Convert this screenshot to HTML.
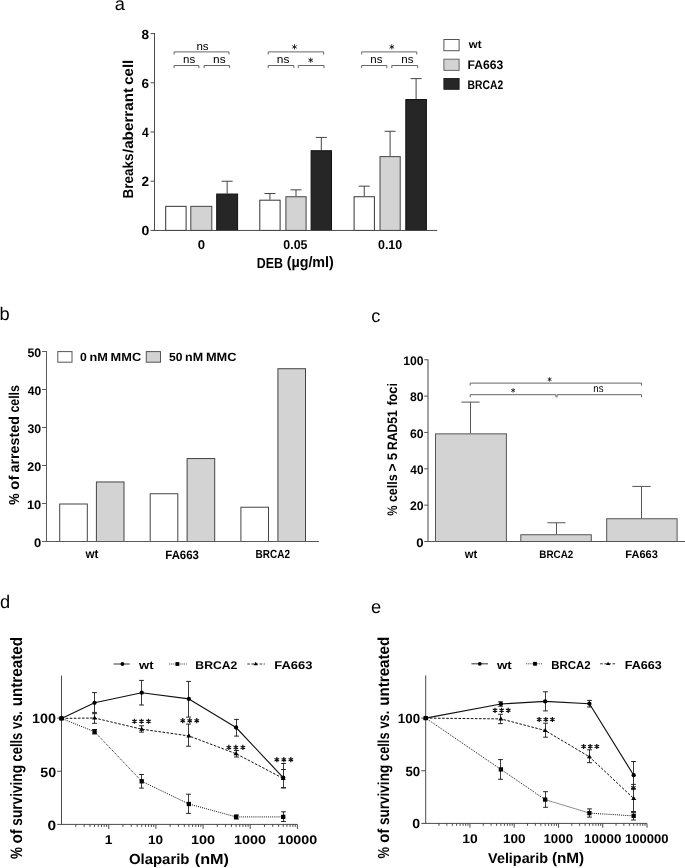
<!DOCTYPE html>
<html><head><meta charset="utf-8"><title>Figure</title><style>
html,body{margin:0;padding:0;background:#fff;}
body{width:685px;height:868px;overflow:hidden;}
svg{display:block;filter:blur(0.25px);}
text{font-family:"Liberation Sans",sans-serif;font-size:100px;fill:#000;text-rendering:geometricPrecision;}
</style></head><body>
<svg width="685" height="868" viewBox="0 0 685 868">
<rect x="0" y="0" width="685" height="868" fill="#fff"/>
<rect x="165.70" y="206.34" width="20.40" height="24.11" fill="#ffffff" stroke="#333" stroke-width="1.0"/>
<rect x="190.80" y="206.34" width="21.00" height="24.11" fill="#d3d3d3" stroke="#444" stroke-width="1.0"/>
<line x1="227.15" y1="193.53" x2="227.15" y2="181.23" stroke="#444" stroke-width="1.0" />
<line x1="221.65" y1="181.23" x2="232.65" y2="181.23" stroke="#444" stroke-width="1.0" />
<rect x="216.70" y="194.03" width="20.90" height="36.41" fill="#262626" stroke="#111" stroke-width="1.0"/>
<line x1="269.95" y1="199.69" x2="269.95" y2="193.53" stroke="#444" stroke-width="1.0" />
<line x1="264.45" y1="193.53" x2="275.45" y2="193.53" stroke="#444" stroke-width="1.0" />
<rect x="259.80" y="200.19" width="20.30" height="30.26" fill="#ffffff" stroke="#333" stroke-width="1.0"/>
<line x1="296.00" y1="196.24" x2="296.00" y2="189.84" stroke="#444" stroke-width="1.0" />
<line x1="290.50" y1="189.84" x2="301.50" y2="189.84" stroke="#444" stroke-width="1.0" />
<rect x="285.90" y="196.74" width="20.20" height="33.71" fill="#d3d3d3" stroke="#444" stroke-width="1.0"/>
<line x1="321.30" y1="150.22" x2="321.30" y2="137.42" stroke="#444" stroke-width="1.0" />
<line x1="315.80" y1="137.42" x2="326.80" y2="137.42" stroke="#444" stroke-width="1.0" />
<rect x="311.10" y="150.72" width="20.40" height="79.73" fill="#262626" stroke="#111" stroke-width="1.0"/>
<line x1="364.25" y1="196.24" x2="364.25" y2="186.15" stroke="#444" stroke-width="1.0" />
<line x1="358.75" y1="186.15" x2="369.75" y2="186.15" stroke="#444" stroke-width="1.0" />
<rect x="354.10" y="196.74" width="20.30" height="33.71" fill="#ffffff" stroke="#333" stroke-width="1.0"/>
<line x1="390.10" y1="156.13" x2="390.10" y2="131.27" stroke="#444" stroke-width="1.0" />
<line x1="384.60" y1="131.27" x2="395.60" y2="131.27" stroke="#444" stroke-width="1.0" />
<rect x="380.00" y="156.63" width="20.20" height="73.82" fill="#d3d3d3" stroke="#444" stroke-width="1.0"/>
<line x1="416.10" y1="99.03" x2="416.10" y2="78.61" stroke="#444" stroke-width="1.0" />
<line x1="410.60" y1="78.61" x2="421.60" y2="78.61" stroke="#444" stroke-width="1.0" />
<rect x="405.80" y="99.53" width="20.60" height="130.92" fill="#262626" stroke="#111" stroke-width="1.0"/>
<line x1="154.50" y1="33.00" x2="154.50" y2="231.00" stroke="#4a4a4a" stroke-width="1.0" />
<line x1="154.00" y1="230.45" x2="437.20" y2="230.45" stroke="#4a4a4a" stroke-width="1.0" />
<line x1="150.60" y1="33.57" x2="154.50" y2="33.57" stroke="#4a4a4a" stroke-width="1.0" />
<line x1="150.60" y1="82.79" x2="154.50" y2="82.79" stroke="#4a4a4a" stroke-width="1.0" />
<line x1="150.60" y1="132.01" x2="154.50" y2="132.01" stroke="#4a4a4a" stroke-width="1.0" />
<line x1="150.60" y1="181.23" x2="154.50" y2="181.23" stroke="#4a4a4a" stroke-width="1.0" />
<line x1="150.60" y1="230.45" x2="154.50" y2="230.45" stroke="#4a4a4a" stroke-width="1.0" />
<polyline points="174.10,54.50 174.10,51.90 229.00,51.90 229.00,54.50" fill="none" stroke="#666" stroke-width="1.0" stroke-linejoin="round" />
<polyline points="174.10,68.10 174.10,65.50 198.90,65.50 198.90,68.10" fill="none" stroke="#666" stroke-width="1.0" stroke-linejoin="round" />
<polyline points="204.10,68.10 204.10,65.50 229.60,65.50 229.60,68.10" fill="none" stroke="#666" stroke-width="1.0" stroke-linejoin="round" />
<polyline points="268.20,54.50 268.20,51.90 323.60,51.90 323.60,54.50" fill="none" stroke="#666" stroke-width="1.0" stroke-linejoin="round" />
<polyline points="268.20,68.10 268.20,65.50 293.90,65.50 293.90,68.10" fill="none" stroke="#666" stroke-width="1.0" stroke-linejoin="round" />
<polyline points="298.30,68.10 298.30,65.50 324.00,65.50 324.00,68.10" fill="none" stroke="#666" stroke-width="1.0" stroke-linejoin="round" />
<polyline points="361.70,54.50 361.70,51.90 416.80,51.90 416.80,54.50" fill="none" stroke="#666" stroke-width="1.0" stroke-linejoin="round" />
<polyline points="361.70,68.10 361.70,65.50 386.80,65.50 386.80,68.10" fill="none" stroke="#666" stroke-width="1.0" stroke-linejoin="round" />
<polyline points="391.80,68.10 391.80,65.50 417.70,65.50 417.70,68.10" fill="none" stroke="#666" stroke-width="1.0" stroke-linejoin="round" />
<path d="M294.50,44.30L294.50,49.50M292.25,45.60L296.75,48.20M292.25,48.20L296.75,45.60" stroke="#111" stroke-width="0.85" fill="none"/>
<path d="M310.70,57.60L310.70,62.80M308.45,58.90L312.95,61.50M308.45,61.50L312.95,58.90" stroke="#111" stroke-width="0.85" fill="none"/>
<path d="M391.80,44.30L391.80,49.50M389.55,45.60L394.05,48.20M389.55,48.20L394.05,45.60" stroke="#111" stroke-width="0.85" fill="none"/>
<rect x="443.90" y="39.50" width="15.20" height="11.20" fill="#ffffff" stroke="#555" stroke-width="1.0"/>
<rect x="443.90" y="59.20" width="15.20" height="11.20" fill="#d3d3d3" stroke="#666" stroke-width="1.0"/>
<rect x="443.90" y="78.50" width="15.20" height="10.80" fill="#262626" stroke="#222" stroke-width="1.0"/>
<rect x="59.70" y="504.00" width="27.60" height="37.50" fill="#ffffff" stroke="#444" stroke-width="1.0"/>
<rect x="96.40" y="481.96" width="27.60" height="59.54" fill="#d3d3d3" stroke="#444" stroke-width="1.0"/>
<rect x="150.20" y="493.74" width="27.60" height="47.76" fill="#ffffff" stroke="#444" stroke-width="1.0"/>
<rect x="187.10" y="458.55" width="27.60" height="82.95" fill="#d3d3d3" stroke="#444" stroke-width="1.0"/>
<rect x="240.90" y="507.23" width="27.60" height="34.27" fill="#ffffff" stroke="#444" stroke-width="1.0"/>
<rect x="277.90" y="368.72" width="27.60" height="172.78" fill="#d3d3d3" stroke="#444" stroke-width="1.0"/>
<line x1="46.50" y1="351.00" x2="46.50" y2="542.00" stroke="#5a5a5a" stroke-width="1.0" />
<line x1="46.00" y1="541.50" x2="318.90" y2="541.50" stroke="#5a5a5a" stroke-width="1.0" />
<line x1="42.10" y1="351.50" x2="46.50" y2="351.50" stroke="#5a5a5a" stroke-width="1.0" />
<line x1="42.10" y1="389.50" x2="46.50" y2="389.50" stroke="#5a5a5a" stroke-width="1.0" />
<line x1="42.10" y1="427.50" x2="46.50" y2="427.50" stroke="#5a5a5a" stroke-width="1.0" />
<line x1="42.10" y1="465.50" x2="46.50" y2="465.50" stroke="#5a5a5a" stroke-width="1.0" />
<line x1="42.10" y1="503.50" x2="46.50" y2="503.50" stroke="#5a5a5a" stroke-width="1.0" />
<line x1="42.10" y1="541.50" x2="46.50" y2="541.50" stroke="#5a5a5a" stroke-width="1.0" />
<rect x="57.80" y="351.60" width="14.20" height="10.60" fill="#ffffff" stroke="#555" stroke-width="1.0"/>
<rect x="146.30" y="351.60" width="14.20" height="10.60" fill="#d3d3d3" stroke="#555" stroke-width="1.0"/>
<line x1="470.50" y1="433.36" x2="470.50" y2="402.10" stroke="#555" stroke-width="1.0" />
<line x1="461.45" y1="402.10" x2="479.55" y2="402.10" stroke="#555" stroke-width="1.0" />
<rect x="435.50" y="433.86" width="70.90" height="107.64" fill="#d3d3d3" stroke="#555" stroke-width="1.0"/>
<line x1="556.50" y1="534.23" x2="556.50" y2="522.78" stroke="#555" stroke-width="1.0" />
<line x1="547.45" y1="522.78" x2="565.55" y2="522.78" stroke="#555" stroke-width="1.0" />
<rect x="520.80" y="534.73" width="70.50" height="6.77" fill="#d3d3d3" stroke="#555" stroke-width="1.0"/>
<line x1="641.50" y1="518.24" x2="641.50" y2="486.43" stroke="#555" stroke-width="1.0" />
<line x1="632.30" y1="486.43" x2="650.70" y2="486.43" stroke="#555" stroke-width="1.0" />
<rect x="606.70" y="518.74" width="70.40" height="22.76" fill="#d3d3d3" stroke="#555" stroke-width="1.0"/>
<line x1="428.00" y1="359.40" x2="428.00" y2="542.00" stroke="#444" stroke-width="1.0" />
<line x1="427.50" y1="541.50" x2="685.00" y2="541.50" stroke="#555" stroke-width="1.0" />
<line x1="424.20" y1="359.75" x2="428.00" y2="359.75" stroke="#555" stroke-width="1.0" />
<line x1="424.20" y1="396.10" x2="428.00" y2="396.10" stroke="#555" stroke-width="1.0" />
<line x1="424.20" y1="432.45" x2="428.00" y2="432.45" stroke="#555" stroke-width="1.0" />
<line x1="424.20" y1="468.80" x2="428.00" y2="468.80" stroke="#555" stroke-width="1.0" />
<line x1="424.20" y1="505.15" x2="428.00" y2="505.15" stroke="#555" stroke-width="1.0" />
<line x1="424.20" y1="541.50" x2="428.00" y2="541.50" stroke="#555" stroke-width="1.0" />
<polyline points="470.20,385.70 470.20,383.10 641.50,383.10 641.50,385.70" fill="none" stroke="#666" stroke-width="1.0" stroke-linejoin="round" />
<polyline points="470.20,397.30 470.20,394.70 555.90,394.70 555.90,397.30" fill="none" stroke="#666" stroke-width="1.0" stroke-linejoin="round" />
<polyline points="557.10,397.30 557.10,394.70 641.50,394.70 641.50,397.30" fill="none" stroke="#666" stroke-width="1.0" stroke-linejoin="round" />
<path d="M549.60,377.20L549.60,381.60M547.69,378.30L551.51,380.50M547.69,380.50L551.51,378.30" stroke="#111" stroke-width="0.8" fill="none"/>
<path d="M513.10,388.20L513.10,392.60M511.19,389.30L515.01,391.50M511.19,391.50L515.01,389.30" stroke="#111" stroke-width="0.8" fill="none"/>
<line x1="61.50" y1="675.60" x2="61.50" y2="824.90" stroke="#4a4a4a" stroke-width="1.0" />
<line x1="57.20" y1="718.10" x2="61.50" y2="718.10" stroke="#4a4a4a" stroke-width="1.0" />
<line x1="57.20" y1="771.25" x2="61.50" y2="771.25" stroke="#4a4a4a" stroke-width="1.0" />
<line x1="57.20" y1="824.40" x2="61.50" y2="824.40" stroke="#4a4a4a" stroke-width="1.0" />
<line x1="61.10" y1="824.40" x2="297.40" y2="824.40" stroke="#4a4a4a" stroke-width="1.0" />
<line x1="75.80" y1="824.40" x2="75.80" y2="826.90" stroke="#4a4a4a" stroke-width="1.0" />
<line x1="84.10" y1="824.40" x2="84.10" y2="826.90" stroke="#4a4a4a" stroke-width="1.0" />
<line x1="89.99" y1="824.40" x2="89.99" y2="826.90" stroke="#4a4a4a" stroke-width="1.0" />
<line x1="94.56" y1="824.40" x2="94.56" y2="826.90" stroke="#4a4a4a" stroke-width="1.0" />
<line x1="98.30" y1="824.40" x2="98.30" y2="826.90" stroke="#4a4a4a" stroke-width="1.0" />
<line x1="101.45" y1="824.40" x2="101.45" y2="826.90" stroke="#4a4a4a" stroke-width="1.0" />
<line x1="104.19" y1="824.40" x2="104.19" y2="826.90" stroke="#4a4a4a" stroke-width="1.0" />
<line x1="106.60" y1="824.40" x2="106.60" y2="826.90" stroke="#4a4a4a" stroke-width="1.0" />
<line x1="108.76" y1="824.40" x2="108.76" y2="828.90" stroke="#4a4a4a" stroke-width="1.0" />
<line x1="122.96" y1="824.40" x2="122.96" y2="826.90" stroke="#4a4a4a" stroke-width="1.0" />
<line x1="131.26" y1="824.40" x2="131.26" y2="826.90" stroke="#4a4a4a" stroke-width="1.0" />
<line x1="137.15" y1="824.40" x2="137.15" y2="826.90" stroke="#4a4a4a" stroke-width="1.0" />
<line x1="141.72" y1="824.40" x2="141.72" y2="826.90" stroke="#4a4a4a" stroke-width="1.0" />
<line x1="145.46" y1="824.40" x2="145.46" y2="826.90" stroke="#4a4a4a" stroke-width="1.0" />
<line x1="148.61" y1="824.40" x2="148.61" y2="826.90" stroke="#4a4a4a" stroke-width="1.0" />
<line x1="151.35" y1="824.40" x2="151.35" y2="826.90" stroke="#4a4a4a" stroke-width="1.0" />
<line x1="153.76" y1="824.40" x2="153.76" y2="826.90" stroke="#4a4a4a" stroke-width="1.0" />
<line x1="155.92" y1="824.40" x2="155.92" y2="828.90" stroke="#4a4a4a" stroke-width="1.0" />
<line x1="170.12" y1="824.40" x2="170.12" y2="826.90" stroke="#4a4a4a" stroke-width="1.0" />
<line x1="178.42" y1="824.40" x2="178.42" y2="826.90" stroke="#4a4a4a" stroke-width="1.0" />
<line x1="184.31" y1="824.40" x2="184.31" y2="826.90" stroke="#4a4a4a" stroke-width="1.0" />
<line x1="188.88" y1="824.40" x2="188.88" y2="826.90" stroke="#4a4a4a" stroke-width="1.0" />
<line x1="192.62" y1="824.40" x2="192.62" y2="826.90" stroke="#4a4a4a" stroke-width="1.0" />
<line x1="195.77" y1="824.40" x2="195.77" y2="826.90" stroke="#4a4a4a" stroke-width="1.0" />
<line x1="198.51" y1="824.40" x2="198.51" y2="826.90" stroke="#4a4a4a" stroke-width="1.0" />
<line x1="200.92" y1="824.40" x2="200.92" y2="826.90" stroke="#4a4a4a" stroke-width="1.0" />
<line x1="203.08" y1="824.40" x2="203.08" y2="828.90" stroke="#4a4a4a" stroke-width="1.0" />
<line x1="217.28" y1="824.40" x2="217.28" y2="826.90" stroke="#4a4a4a" stroke-width="1.0" />
<line x1="225.58" y1="824.40" x2="225.58" y2="826.90" stroke="#4a4a4a" stroke-width="1.0" />
<line x1="231.47" y1="824.40" x2="231.47" y2="826.90" stroke="#4a4a4a" stroke-width="1.0" />
<line x1="236.04" y1="824.40" x2="236.04" y2="826.90" stroke="#4a4a4a" stroke-width="1.0" />
<line x1="239.78" y1="824.40" x2="239.78" y2="826.90" stroke="#4a4a4a" stroke-width="1.0" />
<line x1="242.93" y1="824.40" x2="242.93" y2="826.90" stroke="#4a4a4a" stroke-width="1.0" />
<line x1="245.67" y1="824.40" x2="245.67" y2="826.90" stroke="#4a4a4a" stroke-width="1.0" />
<line x1="248.08" y1="824.40" x2="248.08" y2="826.90" stroke="#4a4a4a" stroke-width="1.0" />
<line x1="250.24" y1="824.40" x2="250.24" y2="828.90" stroke="#4a4a4a" stroke-width="1.0" />
<line x1="264.44" y1="824.40" x2="264.44" y2="826.90" stroke="#4a4a4a" stroke-width="1.0" />
<line x1="272.74" y1="824.40" x2="272.74" y2="826.90" stroke="#4a4a4a" stroke-width="1.0" />
<line x1="278.63" y1="824.40" x2="278.63" y2="826.90" stroke="#4a4a4a" stroke-width="1.0" />
<line x1="283.20" y1="824.40" x2="283.20" y2="826.90" stroke="#4a4a4a" stroke-width="1.0" />
<line x1="286.94" y1="824.40" x2="286.94" y2="826.90" stroke="#4a4a4a" stroke-width="1.0" />
<line x1="290.09" y1="824.40" x2="290.09" y2="826.90" stroke="#4a4a4a" stroke-width="1.0" />
<line x1="292.83" y1="824.40" x2="292.83" y2="826.90" stroke="#4a4a4a" stroke-width="1.0" />
<line x1="295.24" y1="824.40" x2="295.24" y2="826.90" stroke="#4a4a4a" stroke-width="1.0" />
<line x1="297.40" y1="824.40" x2="297.40" y2="828.90" stroke="#4a4a4a" stroke-width="1.0" />
<line x1="113.60" y1="664.00" x2="129.70" y2="664.00" stroke="#444" stroke-width="1.1" />
<circle cx="122.40" cy="664.00" r="1.9" fill="#000"/>
<line x1="169.10" y1="664.00" x2="186.60" y2="664.00" stroke="#333" stroke-width="1.0" stroke-dasharray="1.0,1.1"/>
<rect x="175.50" y="662.10" width="3.8" height="3.8" fill="#000"/>
<line x1="247.30" y1="664.00" x2="264.80" y2="664.00" stroke="#333" stroke-width="1.0" stroke-dasharray="2.6,1.5"/>
<polygon points="255.70,661.86 253.60,665.31 257.80,665.31" fill="#000"/>
<line x1="94.50" y1="692.60" x2="94.50" y2="713.70" stroke="#3a3a3a" stroke-width="1.0" />
<line x1="92.10" y1="692.60" x2="96.90" y2="692.60" stroke="#222" stroke-width="1.0" />
<line x1="92.10" y1="713.70" x2="96.90" y2="713.70" stroke="#222" stroke-width="1.0" />
<line x1="141.50" y1="680.40" x2="141.50" y2="705.00" stroke="#3a3a3a" stroke-width="1.0" />
<line x1="139.10" y1="680.40" x2="143.90" y2="680.40" stroke="#222" stroke-width="1.0" />
<line x1="139.10" y1="705.00" x2="143.90" y2="705.00" stroke="#222" stroke-width="1.0" />
<line x1="188.50" y1="681.40" x2="188.50" y2="717.10" stroke="#3a3a3a" stroke-width="1.0" />
<line x1="186.10" y1="681.40" x2="190.90" y2="681.40" stroke="#222" stroke-width="1.0" />
<line x1="186.10" y1="717.10" x2="190.90" y2="717.10" stroke="#222" stroke-width="1.0" />
<line x1="236.50" y1="719.40" x2="236.50" y2="736.10" stroke="#3a3a3a" stroke-width="1.0" />
<line x1="234.10" y1="719.40" x2="238.90" y2="719.40" stroke="#222" stroke-width="1.0" />
<line x1="234.10" y1="736.10" x2="238.90" y2="736.10" stroke="#222" stroke-width="1.0" />
<line x1="283.50" y1="763.50" x2="283.50" y2="788.00" stroke="#3a3a3a" stroke-width="1.0" />
<line x1="281.10" y1="763.50" x2="285.90" y2="763.50" stroke="#222" stroke-width="1.0" />
<line x1="281.10" y1="788.00" x2="285.90" y2="788.00" stroke="#222" stroke-width="1.0" />
<line x1="94.50" y1="712.40" x2="94.50" y2="723.30" stroke="#3a3a3a" stroke-width="1.0" />
<line x1="92.10" y1="712.40" x2="96.90" y2="712.40" stroke="#222" stroke-width="1.0" />
<line x1="92.10" y1="723.30" x2="96.90" y2="723.30" stroke="#222" stroke-width="1.0" />
<line x1="141.50" y1="725.80" x2="141.50" y2="732.10" stroke="#3a3a3a" stroke-width="1.0" />
<line x1="139.10" y1="725.80" x2="143.90" y2="725.80" stroke="#222" stroke-width="1.0" />
<line x1="139.10" y1="732.10" x2="143.90" y2="732.10" stroke="#222" stroke-width="1.0" />
<line x1="188.50" y1="724.10" x2="188.50" y2="746.20" stroke="#3a3a3a" stroke-width="1.0" />
<line x1="186.10" y1="724.10" x2="190.90" y2="724.10" stroke="#222" stroke-width="1.0" />
<line x1="186.10" y1="746.20" x2="190.90" y2="746.20" stroke="#222" stroke-width="1.0" />
<line x1="236.50" y1="750.50" x2="236.50" y2="757.00" stroke="#3a3a3a" stroke-width="1.0" />
<line x1="234.10" y1="750.50" x2="238.90" y2="750.50" stroke="#222" stroke-width="1.0" />
<line x1="234.10" y1="757.00" x2="238.90" y2="757.00" stroke="#222" stroke-width="1.0" />
<line x1="283.50" y1="769.50" x2="283.50" y2="787.60" stroke="#3a3a3a" stroke-width="1.0" />
<line x1="281.10" y1="769.50" x2="285.90" y2="769.50" stroke="#222" stroke-width="1.0" />
<line x1="281.10" y1="787.60" x2="285.90" y2="787.60" stroke="#222" stroke-width="1.0" />
<line x1="94.50" y1="729.50" x2="94.50" y2="734.00" stroke="#3a3a3a" stroke-width="1.0" />
<line x1="92.10" y1="729.50" x2="96.90" y2="729.50" stroke="#222" stroke-width="1.0" />
<line x1="92.10" y1="734.00" x2="96.90" y2="734.00" stroke="#222" stroke-width="1.0" />
<line x1="141.50" y1="774.50" x2="141.50" y2="788.10" stroke="#3a3a3a" stroke-width="1.0" />
<line x1="139.10" y1="774.50" x2="143.90" y2="774.50" stroke="#222" stroke-width="1.0" />
<line x1="139.10" y1="788.10" x2="143.90" y2="788.10" stroke="#222" stroke-width="1.0" />
<line x1="188.50" y1="794.20" x2="188.50" y2="813.40" stroke="#3a3a3a" stroke-width="1.0" />
<line x1="186.10" y1="794.20" x2="190.90" y2="794.20" stroke="#222" stroke-width="1.0" />
<line x1="186.10" y1="813.40" x2="190.90" y2="813.40" stroke="#222" stroke-width="1.0" />
<line x1="236.50" y1="815.00" x2="236.50" y2="819.00" stroke="#3a3a3a" stroke-width="1.0" />
<line x1="234.10" y1="815.00" x2="238.90" y2="815.00" stroke="#222" stroke-width="1.0" />
<line x1="234.10" y1="819.00" x2="238.90" y2="819.00" stroke="#222" stroke-width="1.0" />
<line x1="283.50" y1="811.80" x2="283.50" y2="821.50" stroke="#3a3a3a" stroke-width="1.0" />
<line x1="281.10" y1="811.80" x2="285.90" y2="811.80" stroke="#222" stroke-width="1.0" />
<line x1="281.10" y1="821.50" x2="285.90" y2="821.50" stroke="#222" stroke-width="1.0" />
<polyline points="61.50,718.40 94.56,702.80 141.72,692.70 188.88,698.90 236.04,727.50 283.20,777.60" fill="none" stroke="#111" stroke-width="1.15" stroke-linejoin="round" />
<polyline points="61.50,718.40 94.56,718.00 141.72,729.20 188.88,735.90 236.04,753.70 283.20,778.40" fill="none" stroke="#111" stroke-width="1.0" stroke-linejoin="round" stroke-dasharray="2.6,1.5"/>
<polyline points="61.50,718.40 94.56,731.70 141.72,781.30 188.88,804.00 236.04,816.90 283.20,816.90" fill="none" stroke="#111" stroke-width="1.0" stroke-linejoin="round" stroke-dasharray="1.0,1.1"/>
<circle cx="61.50" cy="718.40" r="2.15" fill="#000"/>
<circle cx="94.56" cy="702.80" r="2.15" fill="#000"/>
<circle cx="141.72" cy="692.70" r="2.15" fill="#000"/>
<circle cx="188.88" cy="698.90" r="2.15" fill="#000"/>
<circle cx="236.04" cy="727.50" r="2.15" fill="#000"/>
<circle cx="283.20" cy="777.60" r="2.15" fill="#000"/>
<polygon points="61.50,715.86 59.00,719.96 64.00,719.96" fill="#000"/>
<polygon points="94.56,715.46 92.06,719.56 97.06,719.56" fill="#000"/>
<polygon points="141.72,726.66 139.22,730.76 144.22,730.76" fill="#000"/>
<polygon points="188.88,733.36 186.38,737.46 191.38,737.46" fill="#000"/>
<polygon points="236.04,751.16 233.54,755.26 238.54,755.26" fill="#000"/>
<polygon points="283.20,775.86 280.70,779.96 285.70,779.96" fill="#000"/>
<rect x="59.35" y="716.25" width="4.3" height="4.3" fill="#000"/>
<rect x="92.41" y="729.55" width="4.3" height="4.3" fill="#000"/>
<rect x="139.57" y="779.15" width="4.3" height="4.3" fill="#000"/>
<rect x="186.73" y="801.85" width="4.3" height="4.3" fill="#000"/>
<rect x="233.89" y="814.75" width="4.3" height="4.3" fill="#000"/>
<rect x="281.05" y="814.75" width="4.3" height="4.3" fill="#000"/>
<path d="M134.50,718.65L134.50,723.85M132.25,719.95L136.75,722.55M132.25,722.55L136.75,719.95" stroke="#111" stroke-width="1.2" fill="none"/>
<path d="M141.50,718.65L141.50,723.85M139.25,719.95L143.75,722.55M139.25,722.55L143.75,719.95" stroke="#111" stroke-width="1.2" fill="none"/>
<path d="M148.50,718.65L148.50,723.85M146.25,719.95L150.75,722.55M146.25,722.55L150.75,719.95" stroke="#111" stroke-width="1.2" fill="none"/>
<path d="M182.75,718.10L182.75,723.30M180.50,719.40L185.00,722.00M180.50,722.00L185.00,719.40" stroke="#111" stroke-width="1.2" fill="none"/>
<path d="M189.75,718.10L189.75,723.30M187.50,719.40L192.00,722.00M187.50,722.00L192.00,719.40" stroke="#111" stroke-width="1.2" fill="none"/>
<path d="M196.75,718.10L196.75,723.30M194.50,719.40L199.00,722.00M194.50,722.00L199.00,719.40" stroke="#111" stroke-width="1.2" fill="none"/>
<path d="M228.85,744.85L228.85,750.05M226.60,746.15L231.10,748.75M226.60,748.75L231.10,746.15" stroke="#111" stroke-width="1.2" fill="none"/>
<path d="M235.85,744.85L235.85,750.05M233.60,746.15L238.10,748.75M233.60,748.75L238.10,746.15" stroke="#111" stroke-width="1.2" fill="none"/>
<path d="M242.85,744.85L242.85,750.05M240.60,746.15L245.10,748.75M240.60,748.75L245.10,746.15" stroke="#111" stroke-width="1.2" fill="none"/>
<path d="M276.85,757.10L276.85,762.30M274.60,758.40L279.10,761.00M274.60,761.00L279.10,758.40" stroke="#111" stroke-width="1.2" fill="none"/>
<path d="M283.85,757.10L283.85,762.30M281.60,758.40L286.10,761.00M281.60,761.00L286.10,758.40" stroke="#111" stroke-width="1.2" fill="none"/>
<path d="M290.85,757.10L290.85,762.30M288.60,758.40L293.10,761.00M288.60,761.00L293.10,758.40" stroke="#111" stroke-width="1.2" fill="none"/>
<line x1="425.70" y1="675.40" x2="425.70" y2="823.90" stroke="#4a4a4a" stroke-width="1.0" />
<line x1="421.30" y1="718.10" x2="425.70" y2="718.10" stroke="#4a4a4a" stroke-width="1.0" />
<line x1="421.30" y1="770.75" x2="425.70" y2="770.75" stroke="#4a4a4a" stroke-width="1.0" />
<line x1="421.30" y1="823.40" x2="425.70" y2="823.40" stroke="#4a4a4a" stroke-width="1.0" />
<line x1="425.20" y1="823.40" x2="647.00" y2="823.40" stroke="#4a4a4a" stroke-width="1.0" />
<line x1="439.02" y1="823.40" x2="439.02" y2="825.80" stroke="#4a4a4a" stroke-width="1.0" />
<line x1="446.82" y1="823.40" x2="446.82" y2="825.80" stroke="#4a4a4a" stroke-width="1.0" />
<line x1="452.35" y1="823.40" x2="452.35" y2="825.80" stroke="#4a4a4a" stroke-width="1.0" />
<line x1="456.64" y1="823.40" x2="456.64" y2="825.80" stroke="#4a4a4a" stroke-width="1.0" />
<line x1="460.14" y1="823.40" x2="460.14" y2="825.80" stroke="#4a4a4a" stroke-width="1.0" />
<line x1="463.10" y1="823.40" x2="463.10" y2="825.80" stroke="#4a4a4a" stroke-width="1.0" />
<line x1="465.67" y1="823.40" x2="465.67" y2="825.80" stroke="#4a4a4a" stroke-width="1.0" />
<line x1="467.93" y1="823.40" x2="467.93" y2="825.80" stroke="#4a4a4a" stroke-width="1.0" />
<line x1="469.96" y1="823.40" x2="469.96" y2="827.70" stroke="#4a4a4a" stroke-width="1.0" />
<line x1="483.28" y1="823.40" x2="483.28" y2="825.80" stroke="#4a4a4a" stroke-width="1.0" />
<line x1="491.08" y1="823.40" x2="491.08" y2="825.80" stroke="#4a4a4a" stroke-width="1.0" />
<line x1="496.61" y1="823.40" x2="496.61" y2="825.80" stroke="#4a4a4a" stroke-width="1.0" />
<line x1="500.90" y1="823.40" x2="500.90" y2="825.80" stroke="#4a4a4a" stroke-width="1.0" />
<line x1="504.40" y1="823.40" x2="504.40" y2="825.80" stroke="#4a4a4a" stroke-width="1.0" />
<line x1="507.36" y1="823.40" x2="507.36" y2="825.80" stroke="#4a4a4a" stroke-width="1.0" />
<line x1="509.93" y1="823.40" x2="509.93" y2="825.80" stroke="#4a4a4a" stroke-width="1.0" />
<line x1="512.19" y1="823.40" x2="512.19" y2="825.80" stroke="#4a4a4a" stroke-width="1.0" />
<line x1="514.22" y1="823.40" x2="514.22" y2="827.70" stroke="#4a4a4a" stroke-width="1.0" />
<line x1="527.54" y1="823.40" x2="527.54" y2="825.80" stroke="#4a4a4a" stroke-width="1.0" />
<line x1="535.34" y1="823.40" x2="535.34" y2="825.80" stroke="#4a4a4a" stroke-width="1.0" />
<line x1="540.87" y1="823.40" x2="540.87" y2="825.80" stroke="#4a4a4a" stroke-width="1.0" />
<line x1="545.16" y1="823.40" x2="545.16" y2="825.80" stroke="#4a4a4a" stroke-width="1.0" />
<line x1="548.66" y1="823.40" x2="548.66" y2="825.80" stroke="#4a4a4a" stroke-width="1.0" />
<line x1="551.62" y1="823.40" x2="551.62" y2="825.80" stroke="#4a4a4a" stroke-width="1.0" />
<line x1="554.19" y1="823.40" x2="554.19" y2="825.80" stroke="#4a4a4a" stroke-width="1.0" />
<line x1="556.45" y1="823.40" x2="556.45" y2="825.80" stroke="#4a4a4a" stroke-width="1.0" />
<line x1="558.48" y1="823.40" x2="558.48" y2="827.70" stroke="#4a4a4a" stroke-width="1.0" />
<line x1="571.80" y1="823.40" x2="571.80" y2="825.80" stroke="#4a4a4a" stroke-width="1.0" />
<line x1="579.60" y1="823.40" x2="579.60" y2="825.80" stroke="#4a4a4a" stroke-width="1.0" />
<line x1="585.13" y1="823.40" x2="585.13" y2="825.80" stroke="#4a4a4a" stroke-width="1.0" />
<line x1="589.42" y1="823.40" x2="589.42" y2="825.80" stroke="#4a4a4a" stroke-width="1.0" />
<line x1="592.92" y1="823.40" x2="592.92" y2="825.80" stroke="#4a4a4a" stroke-width="1.0" />
<line x1="595.88" y1="823.40" x2="595.88" y2="825.80" stroke="#4a4a4a" stroke-width="1.0" />
<line x1="598.45" y1="823.40" x2="598.45" y2="825.80" stroke="#4a4a4a" stroke-width="1.0" />
<line x1="600.71" y1="823.40" x2="600.71" y2="825.80" stroke="#4a4a4a" stroke-width="1.0" />
<line x1="602.74" y1="823.40" x2="602.74" y2="827.70" stroke="#4a4a4a" stroke-width="1.0" />
<line x1="616.06" y1="823.40" x2="616.06" y2="825.80" stroke="#4a4a4a" stroke-width="1.0" />
<line x1="623.86" y1="823.40" x2="623.86" y2="825.80" stroke="#4a4a4a" stroke-width="1.0" />
<line x1="629.39" y1="823.40" x2="629.39" y2="825.80" stroke="#4a4a4a" stroke-width="1.0" />
<line x1="633.68" y1="823.40" x2="633.68" y2="825.80" stroke="#4a4a4a" stroke-width="1.0" />
<line x1="637.18" y1="823.40" x2="637.18" y2="825.80" stroke="#4a4a4a" stroke-width="1.0" />
<line x1="640.14" y1="823.40" x2="640.14" y2="825.80" stroke="#4a4a4a" stroke-width="1.0" />
<line x1="642.71" y1="823.40" x2="642.71" y2="825.80" stroke="#4a4a4a" stroke-width="1.0" />
<line x1="644.97" y1="823.40" x2="644.97" y2="825.80" stroke="#4a4a4a" stroke-width="1.0" />
<line x1="647.00" y1="823.40" x2="647.00" y2="827.70" stroke="#4a4a4a" stroke-width="1.0" />
<line x1="471.40" y1="663.80" x2="488.00" y2="663.80" stroke="#444" stroke-width="1.1" />
<circle cx="479.80" cy="663.80" r="1.9" fill="#000"/>
<line x1="526.20" y1="663.80" x2="542.30" y2="663.80" stroke="#333" stroke-width="1.0" stroke-dasharray="1.0,1.1"/>
<rect x="533.10" y="661.90" width="3.8" height="3.8" fill="#000"/>
<line x1="600.20" y1="663.80" x2="616.00" y2="663.80" stroke="#333" stroke-width="1.0" stroke-dasharray="2.6,1.5"/>
<polygon points="608.10,661.66 606.00,665.11 610.20,665.11" fill="#000"/>
<line x1="500.50" y1="701.80" x2="500.50" y2="706.20" stroke="#3a3a3a" stroke-width="1.0" />
<line x1="498.10" y1="701.80" x2="502.90" y2="701.80" stroke="#222" stroke-width="1.0" />
<line x1="498.10" y1="706.20" x2="502.90" y2="706.20" stroke="#222" stroke-width="1.0" />
<line x1="545.50" y1="691.80" x2="545.50" y2="710.90" stroke="#3a3a3a" stroke-width="1.0" />
<line x1="543.10" y1="691.80" x2="547.90" y2="691.80" stroke="#222" stroke-width="1.0" />
<line x1="543.10" y1="710.90" x2="547.90" y2="710.90" stroke="#222" stroke-width="1.0" />
<line x1="589.50" y1="700.40" x2="589.50" y2="707.00" stroke="#3a3a3a" stroke-width="1.0" />
<line x1="587.10" y1="700.40" x2="591.90" y2="700.40" stroke="#222" stroke-width="1.0" />
<line x1="587.10" y1="707.00" x2="591.90" y2="707.00" stroke="#222" stroke-width="1.0" />
<line x1="633.50" y1="761.50" x2="633.50" y2="789.30" stroke="#3a3a3a" stroke-width="1.0" />
<line x1="631.10" y1="761.50" x2="635.90" y2="761.50" stroke="#222" stroke-width="1.0" />
<line x1="631.10" y1="789.30" x2="635.90" y2="789.30" stroke="#222" stroke-width="1.0" />
<line x1="500.50" y1="714.30" x2="500.50" y2="723.60" stroke="#3a3a3a" stroke-width="1.0" />
<line x1="498.10" y1="714.30" x2="502.90" y2="714.30" stroke="#222" stroke-width="1.0" />
<line x1="498.10" y1="723.60" x2="502.90" y2="723.60" stroke="#222" stroke-width="1.0" />
<line x1="545.50" y1="723.20" x2="545.50" y2="737.20" stroke="#3a3a3a" stroke-width="1.0" />
<line x1="543.10" y1="723.20" x2="547.90" y2="723.20" stroke="#222" stroke-width="1.0" />
<line x1="543.10" y1="737.20" x2="547.90" y2="737.20" stroke="#222" stroke-width="1.0" />
<line x1="589.50" y1="749.80" x2="589.50" y2="762.70" stroke="#3a3a3a" stroke-width="1.0" />
<line x1="587.10" y1="749.80" x2="591.90" y2="749.80" stroke="#222" stroke-width="1.0" />
<line x1="587.10" y1="762.70" x2="591.90" y2="762.70" stroke="#222" stroke-width="1.0" />
<line x1="633.50" y1="784.40" x2="633.50" y2="812.60" stroke="#3a3a3a" stroke-width="1.0" />
<line x1="631.10" y1="784.40" x2="635.90" y2="784.40" stroke="#222" stroke-width="1.0" />
<line x1="631.10" y1="812.60" x2="635.90" y2="812.60" stroke="#222" stroke-width="1.0" />
<line x1="500.50" y1="759.60" x2="500.50" y2="779.30" stroke="#3a3a3a" stroke-width="1.0" />
<line x1="498.10" y1="759.60" x2="502.90" y2="759.60" stroke="#222" stroke-width="1.0" />
<line x1="498.10" y1="779.30" x2="502.90" y2="779.30" stroke="#222" stroke-width="1.0" />
<line x1="545.50" y1="791.70" x2="545.50" y2="807.30" stroke="#3a3a3a" stroke-width="1.0" />
<line x1="543.10" y1="791.70" x2="547.90" y2="791.70" stroke="#222" stroke-width="1.0" />
<line x1="543.10" y1="807.30" x2="547.90" y2="807.30" stroke="#222" stroke-width="1.0" />
<line x1="589.50" y1="808.90" x2="589.50" y2="817.10" stroke="#3a3a3a" stroke-width="1.0" />
<line x1="587.10" y1="808.90" x2="591.90" y2="808.90" stroke="#222" stroke-width="1.0" />
<line x1="587.10" y1="817.10" x2="591.90" y2="817.10" stroke="#222" stroke-width="1.0" />
<line x1="633.50" y1="811.50" x2="633.50" y2="820.00" stroke="#3a3a3a" stroke-width="1.0" />
<line x1="631.10" y1="811.50" x2="635.90" y2="811.50" stroke="#222" stroke-width="1.0" />
<line x1="631.10" y1="820.00" x2="635.90" y2="820.00" stroke="#222" stroke-width="1.0" />
<polyline points="425.70,718.10 500.90,704.00 545.16,701.40 589.42,703.70 633.68,775.20" fill="none" stroke="#111" stroke-width="1.15" stroke-linejoin="round" />
<polyline points="425.70,718.10 500.90,718.90 545.16,730.50 589.42,756.80 633.68,798.50" fill="none" stroke="#111" stroke-width="1.0" stroke-linejoin="round" stroke-dasharray="2.6,1.5"/>
<polyline points="425.70,718.10 500.90,769.40 545.16,799.60 589.42,813.10 633.68,815.90" fill="none" stroke="#111" stroke-width="1.0" stroke-linejoin="round" stroke-dasharray="1.0,1.1"/>
<circle cx="425.70" cy="718.10" r="2.15" fill="#000"/>
<circle cx="500.90" cy="704.00" r="2.15" fill="#000"/>
<circle cx="545.16" cy="701.40" r="2.15" fill="#000"/>
<circle cx="589.42" cy="703.70" r="2.15" fill="#000"/>
<circle cx="633.68" cy="775.20" r="2.15" fill="#000"/>
<polygon points="425.70,715.56 423.20,719.66 428.20,719.66" fill="#000"/>
<polygon points="500.90,716.36 498.40,720.46 503.40,720.46" fill="#000"/>
<polygon points="545.16,727.96 542.66,732.06 547.66,732.06" fill="#000"/>
<polygon points="589.42,754.26 586.92,758.36 591.92,758.36" fill="#000"/>
<polygon points="633.68,795.96 631.18,800.06 636.18,800.06" fill="#000"/>
<rect x="423.55" y="715.95" width="4.3" height="4.3" fill="#000"/>
<rect x="498.75" y="767.25" width="4.3" height="4.3" fill="#000"/>
<rect x="543.01" y="797.45" width="4.3" height="4.3" fill="#000"/>
<rect x="587.27" y="810.95" width="4.3" height="4.3" fill="#000"/>
<rect x="631.53" y="813.75" width="4.3" height="4.3" fill="#000"/>
<path d="M495.00,707.70L495.00,712.90M492.75,709.00L497.25,711.60M492.75,711.60L497.25,709.00" stroke="#111" stroke-width="1.2" fill="none"/>
<path d="M501.60,707.70L501.60,712.90M499.35,709.00L503.85,711.60M499.35,711.60L503.85,709.00" stroke="#111" stroke-width="1.2" fill="none"/>
<path d="M508.20,707.70L508.20,712.90M505.95,709.00L510.45,711.60M505.95,711.60L510.45,709.00" stroke="#111" stroke-width="1.2" fill="none"/>
<path d="M539.20,716.90L539.20,722.10M536.95,718.20L541.45,720.80M536.95,720.80L541.45,718.20" stroke="#111" stroke-width="1.2" fill="none"/>
<path d="M545.80,716.90L545.80,722.10M543.55,718.20L548.05,720.80M543.55,720.80L548.05,718.20" stroke="#111" stroke-width="1.2" fill="none"/>
<path d="M552.40,716.90L552.40,722.10M550.15,718.20L554.65,720.80M550.15,720.80L554.65,718.20" stroke="#111" stroke-width="1.2" fill="none"/>
<path d="M583.60,743.90L583.60,749.10M581.35,745.20L585.85,747.80M581.35,747.80L585.85,745.20" stroke="#111" stroke-width="1.2" fill="none"/>
<path d="M590.20,743.90L590.20,749.10M587.95,745.20L592.45,747.80M587.95,747.80L592.45,745.20" stroke="#111" stroke-width="1.2" fill="none"/>
<path d="M596.80,743.90L596.80,749.10M594.55,745.20L599.05,747.80M594.55,747.80L599.05,745.20" stroke="#111" stroke-width="1.2" fill="none"/>
<path d="M633.40,785.20L633.40,790.40M631.15,786.50L635.65,789.10M631.15,789.10L635.65,786.50" stroke="#111" stroke-width="1.2" fill="none"/>
<text transform="translate(114.63,10.20) scale(0.18300,0.18300)" font-weight="normal">a</text>
<text transform="translate(141.47,38.56) scale(0.13600,0.13217)" font-weight="bold">8</text>
<text transform="translate(141.47,87.78) scale(0.13600,0.13217)" font-weight="bold">6</text>
<text transform="translate(141.90,137.21) scale(0.12089,0.13511)" font-weight="bold">4</text>
<text transform="translate(141.47,186.43) scale(0.13600,0.13511)" font-weight="bold">2</text>
<text transform="translate(141.46,235.44) scale(0.14039,0.13217)" font-weight="bold">0</text>
<text transform="translate(133.20,198.54) rotate(-90) scale(0.13517,0.14500)" font-weight="bold">Breaks</text>
<text transform="translate(133.20,153.10) rotate(-90) scale(0.15254,0.14500)" font-weight="bold">/aberrant</text>
<text transform="translate(133.20,84.87) rotate(-90) scale(0.15086,0.14500)" font-weight="bold">cell</text>
<text transform="translate(196.38,50.03) scale(0.11534,0.11200)" font-weight="normal">ns</text>
<text transform="translate(182.98,63.43) scale(0.11534,0.11200)" font-weight="normal">ns</text>
<text transform="translate(213.05,63.43) scale(0.11949,0.11200)" font-weight="normal">ns</text>
<text transform="translate(276.75,63.43) scale(0.11949,0.11200)" font-weight="normal">ns</text>
<text transform="translate(370.28,63.43) scale(0.11534,0.11200)" font-weight="normal">ns</text>
<text transform="translate(401.28,63.43) scale(0.11534,0.11200)" font-weight="normal">ns</text>
<text transform="translate(468.78,47.93) scale(0.11412,0.11163)" font-weight="bold">wt</text>
<text transform="translate(467.54,68.90) scale(0.12138,0.12522)" font-weight="bold">FA663</text>
<text transform="translate(467.45,88.91) scale(0.10395,0.12383)" font-weight="bold">BRCA2</text>
<text transform="translate(197.69,248.70) scale(0.13213,0.12800)" font-weight="bold">0</text>
<text transform="translate(283.31,248.70) scale(0.12433,0.12800)" font-weight="bold">0.05</text>
<text transform="translate(377.91,248.70) scale(0.12537,0.12800)" font-weight="bold">0.10</text>
<text transform="translate(256.72,267.60) scale(0.12412,0.14680)" font-weight="bold">DEB</text>
<text transform="translate(286.63,267.42) scale(0.14309,0.15003)" font-weight="bold">(µg/ml)</text>
<text transform="translate(-0.44,319.60) scale(0.18300,0.18300)" font-weight="normal">b</text>
<text transform="translate(27.51,356.81) scale(0.12309,0.12383)" font-weight="bold">50</text>
<text transform="translate(27.70,394.81) scale(0.12129,0.12383)" font-weight="bold">40</text>
<text transform="translate(27.51,432.81) scale(0.12309,0.12383)" font-weight="bold">30</text>
<text transform="translate(27.31,470.81) scale(0.12494,0.12383)" font-weight="bold">20</text>
<text transform="translate(26.89,508.81) scale(0.12881,0.12383)" font-weight="bold">10</text>
<text transform="translate(33.99,546.81) scale(0.13006,0.12383)" font-weight="bold">0</text>
<text transform="translate(18.70,504.70) rotate(-90) scale(0.12684,0.14400)" font-weight="bold">%</text>
<text transform="translate(18.70,489.66) rotate(-90) scale(0.14837,0.14400)" font-weight="bold">of</text>
<text transform="translate(18.70,472.52) rotate(-90) scale(0.14300,0.14400)" font-weight="bold">arrested</text>
<text transform="translate(18.70,412.59) rotate(-90) scale(0.12359,0.14400)" font-weight="bold">cells</text>
<text transform="translate(79.92,360.92) scale(0.12181,0.11826)" font-weight="bold">0</text>
<text transform="translate(89.51,361.00) scale(0.12711,0.11773)" font-weight="bold">nM</text>
<text transform="translate(110.50,361.00) scale(0.12833,0.11773)" font-weight="bold">MMC</text>
<text transform="translate(169.01,360.82) scale(0.12119,0.11826)" font-weight="bold">50</text>
<text transform="translate(185.02,360.90) scale(0.12485,0.11919)" font-weight="bold">nM</text>
<text transform="translate(206.00,360.90) scale(0.12746,0.11919)" font-weight="bold">MMC</text>
<text transform="translate(85.48,558.31) scale(0.11591,0.12205)" font-weight="bold">wt</text>
<text transform="translate(165.29,558.91) scale(0.11403,0.12104)" font-weight="bold">FA663</text>
<text transform="translate(255.57,558.22) scale(0.10008,0.11826)" font-weight="bold">BRCA2</text>
<text transform="translate(371.33,322.20) scale(0.18300,0.18300)" font-weight="normal">c</text>
<text transform="translate(403.14,364.95) scale(0.12201,0.12522)" font-weight="bold">100</text>
<text transform="translate(409.92,401.30) scale(0.12205,0.12522)" font-weight="bold">80</text>
<text transform="translate(409.92,437.65) scale(0.12205,0.12522)" font-weight="bold">60</text>
<text transform="translate(410.30,474.00) scale(0.11849,0.12522)" font-weight="bold">40</text>
<text transform="translate(409.92,510.35) scale(0.12205,0.12522)" font-weight="bold">20</text>
<text transform="translate(416.19,546.70) scale(0.13213,0.12522)" font-weight="bold">0</text>
<text transform="translate(396.50,515.68) rotate(-90) scale(0.11520,0.13800)" font-weight="bold">%</text>
<text transform="translate(396.50,502.09) rotate(-90) scale(0.12498,0.13800)" font-weight="bold">cells</text>
<text transform="translate(396.50,471.42) rotate(-90) scale(0.13576,0.13800)" font-weight="bold">&gt;</text>
<text transform="translate(396.50,460.31) rotate(-90) scale(0.13382,0.13800)" font-weight="bold">5</text>
<text transform="translate(396.50,450.06) rotate(-90) scale(0.12126,0.13800)" font-weight="bold">RAD51</text>
<text transform="translate(396.50,405.60) rotate(-90) scale(0.12683,0.13800)" font-weight="bold">foci</text>
<text transform="translate(593.30,392.03) scale(0.09663,0.10844)" font-weight="normal">ns</text>
<text transform="translate(464.78,558.22) scale(0.11234,0.11609)" font-weight="bold">wt</text>
<text transform="translate(539.28,557.93) scale(0.09859,0.10852)" font-weight="bold">BRCA2</text>
<text transform="translate(625.31,558.03) scale(0.11053,0.10991)" font-weight="bold">FA663</text>
<text transform="translate(-0.07,608.20) scale(0.18300,0.18300)" font-weight="normal">d</text>
<text transform="translate(32.10,723.39) scale(0.14373,0.13496)" font-weight="bold">100</text>
<text transform="translate(40.18,776.54) scale(0.14297,0.13496)" font-weight="bold">50</text>
<text transform="translate(47.52,829.69) scale(0.15484,0.13496)" font-weight="bold">0</text>
<text transform="translate(22.30,859.01) rotate(-90) scale(0.13498,0.16500)" font-weight="bold">%</text>
<text transform="translate(22.30,843.48) rotate(-90) scale(0.15271,0.16500)" font-weight="bold">of</text>
<text transform="translate(22.30,825.63) rotate(-90) scale(0.13630,0.16500)" font-weight="bold">surviving</text>
<text transform="translate(22.30,761.51) rotate(-90) scale(0.12963,0.16500)" font-weight="bold">cells</text>
<text transform="translate(22.30,729.00) rotate(-90) scale(0.12922,0.16500)" font-weight="bold">vs.</text>
<text transform="translate(22.30,706.31) rotate(-90) scale(0.15207,0.16500)" font-weight="bold">untreated</text>
<text transform="translate(104.73,844.10) scale(0.13867,0.12658)" font-weight="bold">1</text>
<text transform="translate(147.95,843.91) scale(0.13574,0.12383)" font-weight="bold">10</text>
<text transform="translate(190.99,843.91) scale(0.14501,0.12383)" font-weight="bold">100</text>
<text transform="translate(234.10,843.91) scale(0.14376,0.12383)" font-weight="bold">1000</text>
<text transform="translate(277.51,843.91) scale(0.14228,0.12383)" font-weight="bold">10000</text>
<text transform="translate(128.93,864.40) scale(0.14927,0.14535)" font-weight="bold">Olaparib</text>
<text transform="translate(194.84,864.49) scale(0.16183,0.14689)" font-weight="bold">(nM)</text>
<text transform="translate(139.10,668.80) scale(0.13017,0.11400)" font-weight="bold">wt</text>
<text transform="translate(195.34,668.92) scale(0.12212,0.11270)" font-weight="bold">BRCA2</text>
<text transform="translate(274.19,668.92) scale(0.12977,0.11270)" font-weight="bold">FA663</text>
<text transform="translate(371.03,613.40) scale(0.18300,0.18300)" font-weight="normal">e</text>
<text transform="translate(397.87,723.19) scale(0.13287,0.13357)" font-weight="bold">100</text>
<text transform="translate(405.39,775.84) scale(0.13161,0.13357)" font-weight="bold">50</text>
<text transform="translate(412.26,828.49) scale(0.14039,0.13357)" font-weight="bold">0</text>
<text transform="translate(388.70,858.40) rotate(-90) scale(0.13033,0.15900)" font-weight="bold">%</text>
<text transform="translate(388.70,842.86) rotate(-90) scale(0.14837,0.15900)" font-weight="bold">of</text>
<text transform="translate(388.70,825.02) rotate(-90) scale(0.13538,0.15900)" font-weight="bold">surviving</text>
<text transform="translate(388.70,760.90) rotate(-90) scale(0.12777,0.15900)" font-weight="bold">cells</text>
<text transform="translate(388.70,728.40) rotate(-90) scale(0.12622,0.15900)" font-weight="bold">vs.</text>
<text transform="translate(388.70,705.71) rotate(-90) scale(0.15117,0.15900)" font-weight="bold">untreated</text>
<text transform="translate(462.33,842.60) scale(0.13871,0.12661)" font-weight="bold">10</text>
<text transform="translate(502.95,842.60) scale(0.13606,0.12661)" font-weight="bold">100</text>
<text transform="translate(543.47,842.60) scale(0.13292,0.12661)" font-weight="bold">1000</text>
<text transform="translate(584.06,842.60) scale(0.13407,0.12661)" font-weight="bold">10000</text>
<text transform="translate(624.88,842.60) scale(0.13111,0.12661)" font-weight="bold">100000</text>
<text transform="translate(488.10,862.80) scale(0.14363,0.14244)" font-weight="bold">Veliparib</text>
<text transform="translate(551.88,863.32) scale(0.15295,0.15003)" font-weight="bold">(nM)</text>
<text transform="translate(497.01,668.80) scale(0.13285,0.11400)" font-weight="bold">wt</text>
<text transform="translate(551.29,668.62) scale(0.11378,0.11548)" font-weight="bold">BRCA2</text>
<text transform="translate(624.82,668.62) scale(0.12557,0.11548)" font-weight="bold">FA663</text>
</svg>
</body></html>
